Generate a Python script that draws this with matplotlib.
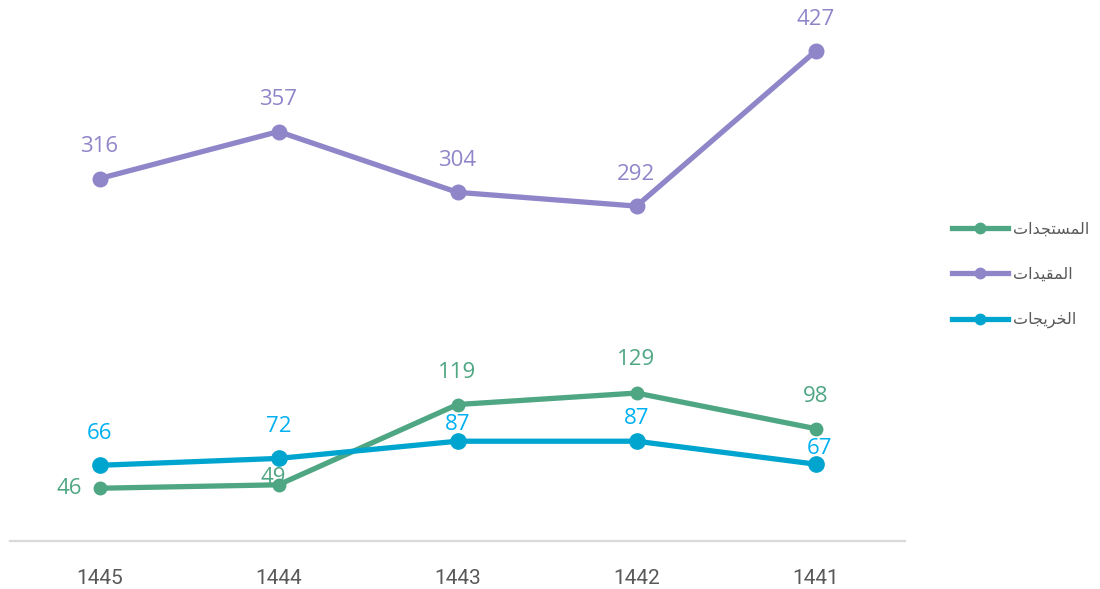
import numpy as np
import matplotlib.pyplot as plt

# السنوات (من اليمين إلى اليسار كما في الأصل)
years = ["1445", "1444", "1443", "1442", "1441"]
new_students = [46, 49, 119, 129, 98]        # المستجدات
enrolled = [316, 357, 304, 292, 427]         # المقيدات
graduates = [66, 72, 87, 87, 67]             # الخريجات

# النصوص العربية بأشكال العرض (ترتيب بصري لأن matplotlib لا يشكّل العربية)
lbl_new = "\uFE95\uFE8D\uFEAA\uFEA0\uFE98\uFEB4\uFEE4\uFEDF\uFE8D"
lbl_enrolled = "\uFE95\uFE8D\uFEAA\uFEF4\uFED8\uFEE4\uFEDF\uFE8D"
lbl_grad = "\uFE95\uFE8E\uFEA0\uFEF3\uFEAE\uFEA8\uFEDF\uFE8D"

c_green = "#4EA683"
c_purple = "#8E86C9"
c_blue = "#00A5CF"
c_blue_txt = "#00B0F0"

# إزاحات التسميات بالنقاط (dx, dy)
off_new = [(-22, 0), (-4, 5), (0, 23), (0, 24), (0, 23)]
off_enr = [(0, 23), (0, 23), (0, 23), (0, 23), (0, 23)]
off_grad = [(0, 23), (0, 23), (0, 12), (0, 16), (3, 11)]

fig = plt.figure(figsize=(11, 5.89), dpi=100)
ax = fig.add_axes([10 / 1100, 48 / 589, 895 / 1100, 541 / 589])
x = np.arange(len(years))

l1, = ax.plot(x, new_students, color=c_green, lw=3.8, marker="o", ms=9)
l2, = ax.plot(x, enrolled, color=c_purple, lw=3.8, marker="o", ms=10.5)
l3, = ax.plot(x, graduates, color=c_blue, lw=3.8, marker="o", ms=11)

def labels(vals, offs, color):
    for xi, v, (dx, dy) in zip(x, vals, offs):
        ax.annotate(str(v), (xi, v), xytext=(dx, dy), textcoords="offset points",
                    ha="center", va="center", color=color, fontsize=16,
                    fontfamily="Open Sans")

labels(new_students, off_new, c_green)
labels(enrolled, off_enr, c_purple)
labels(graduates, off_grad, c_blue_txt)

ax.set_xlim(-0.5, 4.5)
ax.set_ylim(0, 471.7)
ax.set_xticks(x)
ax.set_xticklabels(years, fontfamily="Roboto", fontsize=15, color="#595959")
ax.tick_params(axis="x", length=0, pad=20)
ax.set_yticks([])
for s in ["top", "right", "left"]:
    ax.spines[s].set_visible(False)
ax.spines["bottom"].set_color("#D9D9D9")
ax.spines["bottom"].set_linewidth(1.6)

leg = fig.legend([l1, l2, l3], [lbl_new, lbl_enrolled, lbl_grad],
                 loc="center left", bbox_to_anchor=(938 / 1100, 1 - 275 / 589),
                 frameon=False, numpoints=1, handlelength=3.5, handletextpad=0.3,
                 labelspacing=1.9, prop={"family": "DejaVu Sans", "size": 11.5})
for t in leg.get_texts():
    t.set_color("#595959")
for h in leg.legend_handles:
    h.set_markersize(7.5)
    h.set_linewidth(3.8)

fig.savefig("out.png", dpi=100)
